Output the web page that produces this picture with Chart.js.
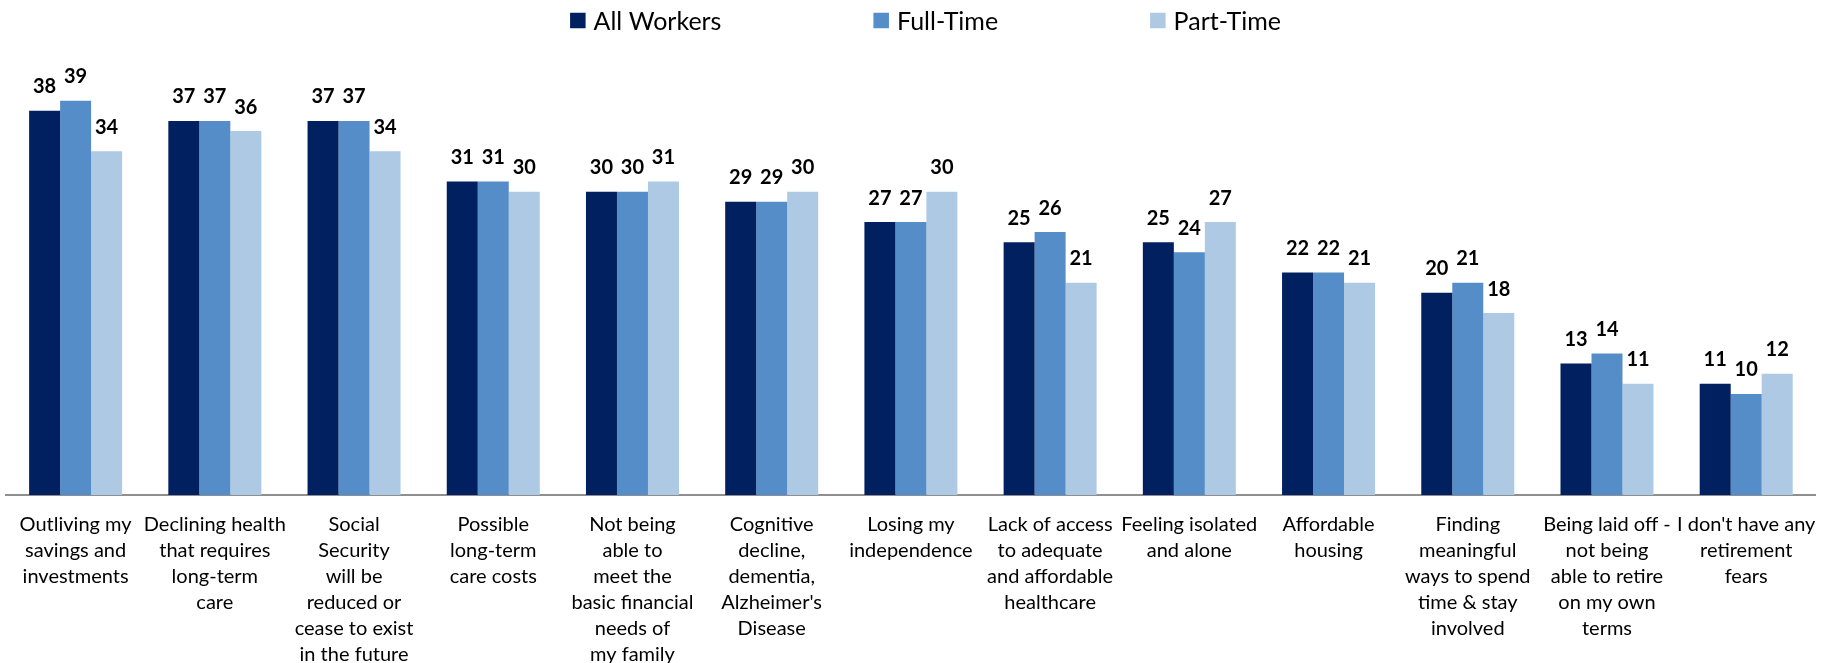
<!DOCTYPE html>
<html>
<head>
<meta charset="utf-8">
<script src="https://cdn.jsdelivr.net/npm/chart.js@4.4.1/dist/chart.umd.min.js"></script>
<style>
  html, body { margin: 0; padding: 0; background: #fff; }
  #chart { display: block; }
</style>
</head>
<body>
<canvas id="chart" width="1833" height="663"></canvas>
<script>
// categories (tick labels, one entry per line)
const categories = [
    ['Outliving my', 'savings and', 'investments'],
    ['Declining health', 'that requires', 'long-term', 'care'],
    ['Social', 'Security', 'will be', 'reduced or', 'cease to exist', 'in the future'],
    ['Possible', 'long-term', 'care costs'],
    ['Not being', 'able to', 'meet the', 'basic financial', 'needs of', 'my family'],
    ['Cognitive', 'decline,', 'dementia,', "Alzheimer's", 'Disease'],
    ['Losing my', 'independence'],
    ['Lack of access', 'to adequate', 'and affordable', 'healthcare'],
    ['Feeling isolated', 'and alone'],
    ['Affordable', 'housing'],
    ['Finding', 'meaningful', 'ways to spend', 'time & stay', 'involved'],
    ['Being laid off -', 'not being', 'able to retire', 'on my own', 'terms'],
    ["I don't have any", 'retirement', 'fears']
];

const seriesNames = ['All Workers', 'Full-Time', 'Part-Time'];
const allWorkers = [38, 37, 37, 31, 30, 29, 27, 25, 25, 22, 20, 13, 11];
const fullTime   = [39, 37, 37, 31, 30, 29, 27, 26, 24, 22, 21, 14, 10];
const partTime   = [34, 36, 34, 30, 31, 30, 30, 21, 27, 21, 18, 11, 12];
const seriesColors = ['#002060', '#558DC8', '#AEC9E4'];

const FONT = 'Lato, "Open Sans", sans-serif';

// numbers over the bars
const valueLabels = {
    id: 'valueLabels',
    afterDatasetsDraw(chart) {
        const ctx = chart.ctx;
        ctx.save();
        ctx.font = 'bold 20px ' + FONT;
        ctx.fillStyle = '#000';
        ctx.textAlign = 'center';
        ctx.textBaseline = 'alphabetic';
        chart.data.datasets.forEach((ds, i) => {
            chart.getDatasetMeta(i).data.forEach((bar, j) => {
                ctx.fillText(String(ds.data[j]), bar.x, bar.y - 17.5);
            });
        });
        ctx.restore();
    }
};

// legend drawn like the original: wide gaps between items
const wideLegend = {
    id: 'wideLegend',
    afterDraw(chart) {
        const ctx = chart.ctx;
        const box = 15.5, textGap = 8, itemGap = 152, midY = 20.5;
        ctx.save();
        ctx.font = '25px ' + FONT;
        ctx.textBaseline = 'middle';
        const items = chart.data.datasets.map(ds => ({
            text: ds.label,
            color: ds.backgroundColor,
            w: box + textGap + ctx.measureText(ds.label).width
        }));
        const total = items.reduce((s, it) => s + it.w, 0) + itemGap * (items.length - 1);
        let x = chart.width / 2 + 9 - total / 2;
        items.forEach(it => {
            ctx.fillStyle = it.color;
            ctx.fillRect(x, midY - box / 2, box, box);
            ctx.fillStyle = '#000';
            ctx.fillText(it.text, x + box + textGap, midY + 1);
            x += it.w + itemGap;
        });
        ctx.restore();
    }
};

const chart = new Chart(document.getElementById('chart'), {
    type: 'bar',
    data: {
        labels: categories,
        datasets: [
            { label: seriesNames[0], data: allWorkers, backgroundColor: seriesColors[0] },
            { label: seriesNames[1], data: fullTime, backgroundColor: seriesColors[1] },
            { label: seriesNames[2], data: partTime, backgroundColor: seriesColors[2] }
        ]
    },
    options: {
        responsive: false,
        animation: false,
        layout: { padding: { top: 40, left: 6, right: 16, bottom: 0 } },
        datasets: {
            bar: { barPercentage: 1, categoryPercentage: 0.668, borderWidth: 0 }
        },
        plugins: {
            legend: { display: false },
            tooltip: { enabled: false }
        },
        scales: {
            x: {
                grid: { display: false, drawTicks: false },
                border: { display: true, color: '#8F8F8F', width: 2 },
                ticks: {
                    color: '#000',
                    font: { family: FONT, size: 20, lineHeight: '26px' },
                    padding: 17,
                    autoSkip: false,
                    maxRotation: 0
                },
                afterFit(scale) { scale.height = 168; }
            },
            y: {
                display: false,
                min: 0,
                max: 45
            }
        }
    },
    plugins: [valueLabels, wideLegend]
});
</script>
</body>
</html>
